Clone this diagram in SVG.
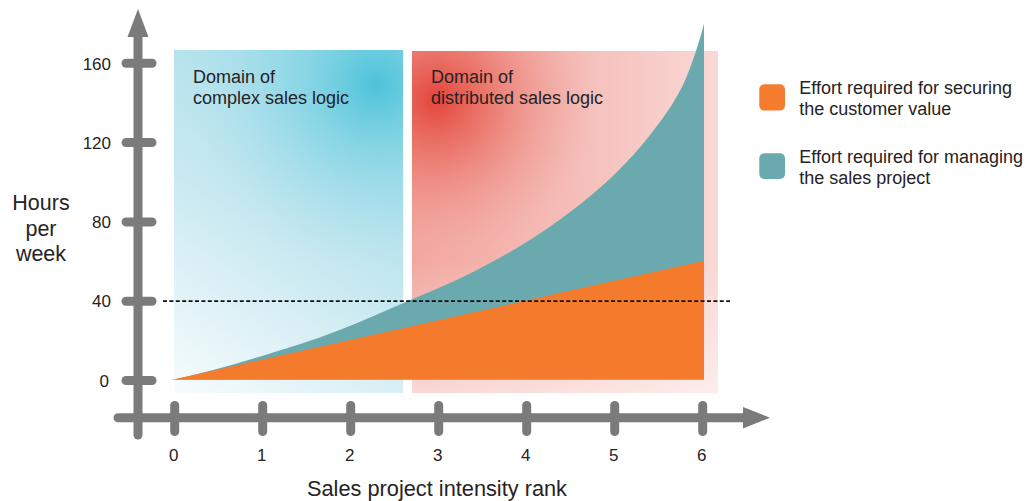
<svg xmlns="http://www.w3.org/2000/svg" width="1027" height="501" viewBox="0 0 1027 501">
<style>
text{font-family:"Liberation Sans",Arial,Helvetica,sans-serif;fill:#262324}
.lbl{font-size:18px}
.tick{font-size:17px}
.ttl{font-size:21.5px}
.ax{stroke:#7b7b7b;stroke-width:9;stroke-linecap:round;fill:none}
.axh{fill:#7b7b7b}
</style>
<defs>
<linearGradient id="blueBase" x1="174" y1="393" x2="403" y2="50" gradientUnits="userSpaceOnUse">
<stop offset="0" stop-color="#f7fcfd"/>
<stop offset="0.45" stop-color="#c9e9f1"/>
<stop offset="1" stop-color="#9ddbe8"/>
</linearGradient>
<radialGradient id="blueHot" cx="376" cy="84" r="190" gradientUnits="userSpaceOnUse">
<stop offset="0" stop-color="#4cc3d9" stop-opacity="1"/>
<stop offset="0.35" stop-color="#6dcde0" stop-opacity="0.6"/>
<stop offset="1" stop-color="#a8dfea" stop-opacity="0"/>
</radialGradient>
<linearGradient id="redBase" x1="412" y1="0" x2="718" y2="0" gradientUnits="userSpaceOnUse">
<stop offset="0" stop-color="#f2a8a1"/>
<stop offset="0.5" stop-color="#f5bcb7"/>
<stop offset="1" stop-color="#f9d8d5"/>
</linearGradient>
<radialGradient id="redHot" cx="436" cy="100" r="160" gradientUnits="userSpaceOnUse">
<stop offset="0" stop-color="#e4443a" stop-opacity="1"/>
<stop offset="0.35" stop-color="#e8665a" stop-opacity="0.7"/>
<stop offset="1" stop-color="#f09d95" stop-opacity="0"/>
</radialGradient>
<linearGradient id="redFade" x1="0" y1="260" x2="0" y2="393" gradientUnits="userSpaceOnUse">
<stop offset="0" stop-color="#ffffff" stop-opacity="0"/>
<stop offset="1" stop-color="#ffffff" stop-opacity="0.55"/>
</linearGradient>
</defs>

<g id="domain-complex">
<rect x="174" y="50" width="229" height="343" fill="url(#blueBase)"/>
<rect x="174" y="50" width="229" height="343" fill="url(#blueHot)"/>
<text class="lbl" x="193" y="82.7">Domain of</text>
<text class="lbl" x="193" y="104">complex sales logic</text>
</g>

<g id="domain-distributed">
<rect x="412" y="51" width="306" height="342" fill="url(#redBase)"/>
<rect x="412" y="51" width="306" height="342" fill="url(#redHot)"/>
<rect x="412" y="51" width="306" height="342" fill="url(#redFade)"/>
</g>

<g id="area-managing">
<path fill="#6aa9ae" d="M172,380 C204.67,372.81 237.33,363.4 270,353.5 C292.33,346.73 314.67,339.49 337,331 C360.67,322.01 384.33,311.22 408,301 C427.67,292.5 447.33,284.83 467,275 C489,264 511,252.08 533,238 C549.67,227.33 566.33,215.33 583,202 C594.33,192.93 605.67,183.33 617,172 C628,161 639,149.41 650,135 C661,120.59 672,107 683,85 C687.33,76.33 691.67,64 696,51 C698.67,43 701.33,34.13 704,24 L704,379.5 L172,379.5 Z"/>
</g>

<g id="area-securing">
<path fill="#f47b2c" d="M172,379.8 L704,260.7 L704,379.5 Z"/>
</g>

<g id="domain-distributed-label">
<text class="lbl" x="431" y="82.7">Domain of</text>
<text class="lbl" x="431" y="104">distributed sales logic</text>
</g>

<g id="connectors">
<line x1="163" y1="301.2" x2="730" y2="301.2" stroke="#111" stroke-width="1.8" stroke-dasharray="4 2.4"/>
</g>

<g id="y-axis">
<line class="ax" x1="138" y1="34" x2="138" y2="435"/>
<polygon class="axh" points="138,9 148.5,37 127.5,37"/>
<line class="ax" x1="126" y1="63.3" x2="152" y2="63.3"/>
<line class="ax" x1="126" y1="142.6" x2="152" y2="142.6"/>
<line class="ax" x1="126" y1="221.9" x2="152" y2="221.9"/>
<line class="ax" x1="126" y1="301.2" x2="152" y2="301.2"/>
<line class="ax" x1="126" y1="380.5" x2="152" y2="380.5"/>
<text class="tick" text-anchor="end" x="111" y="69.5">160</text>
<text class="tick" text-anchor="end" x="111" y="148.8">120</text>
<text class="tick" text-anchor="end" x="111" y="228.1">80</text>
<text class="tick" text-anchor="end" x="111" y="307.4">40</text>
<text class="tick" text-anchor="end" x="109" y="386.7">0</text>
<text class="ttl" text-anchor="middle" x="41" y="210">Hours</text>
<text class="ttl" text-anchor="middle" x="41" y="235.5">per</text>
<text class="ttl" text-anchor="middle" x="41" y="260.5">week</text>
</g>

<g id="x-axis">
<line class="ax" x1="118" y1="417.7" x2="748" y2="417.7"/>
<polygon class="axh" points="770,417.7 743,406.9 743,428.5"/>
<line class="ax" x1="174.7" y1="405.5" x2="174.7" y2="431.5"/>
<line class="ax" x1="262.7" y1="405.5" x2="262.7" y2="431.5"/>
<line class="ax" x1="350.7" y1="405.5" x2="350.7" y2="431.5"/>
<line class="ax" x1="438.7" y1="405.5" x2="438.7" y2="431.5"/>
<line class="ax" x1="526.7" y1="405.5" x2="526.7" y2="431.5"/>
<line class="ax" x1="614.7" y1="405.5" x2="614.7" y2="431.5"/>
<line class="ax" x1="702.7" y1="405.5" x2="702.7" y2="431.5"/>
<text class="tick" text-anchor="middle" x="173.7" y="460.5">0</text>
<text class="tick" text-anchor="middle" x="261.7" y="460.5">1</text>
<text class="tick" text-anchor="middle" x="349.7" y="460.5">2</text>
<text class="tick" text-anchor="middle" x="437.7" y="460.5">3</text>
<text class="tick" text-anchor="middle" x="525.7" y="460.5">4</text>
<text class="tick" text-anchor="middle" x="613.7" y="460.5">5</text>
<text class="tick" text-anchor="middle" x="701.7" y="460.5">6</text>
<text class="ttl" x="307" y="495.7" textLength="260" lengthAdjust="spacingAndGlyphs">Sales project intensity rank</text>
</g>

<g id="legend-securing">
<rect x="759.3" y="84.3" width="25.7" height="26.3" rx="5" fill="#f47d30"/>
<text class="lbl" x="799.3" y="94.3">Effort required for securing</text>
<text class="lbl" x="799.3" y="115.3">the customer value</text>
</g>
<g id="legend-managing">
<rect x="759.3" y="153.3" width="25.7" height="25.7" rx="5" fill="#6aa9ae"/>
<text class="lbl" x="799.3" y="163.3">Effort required for managing</text>
<text class="lbl" x="799.3" y="184.3">the sales project</text>
</g>
</svg>
